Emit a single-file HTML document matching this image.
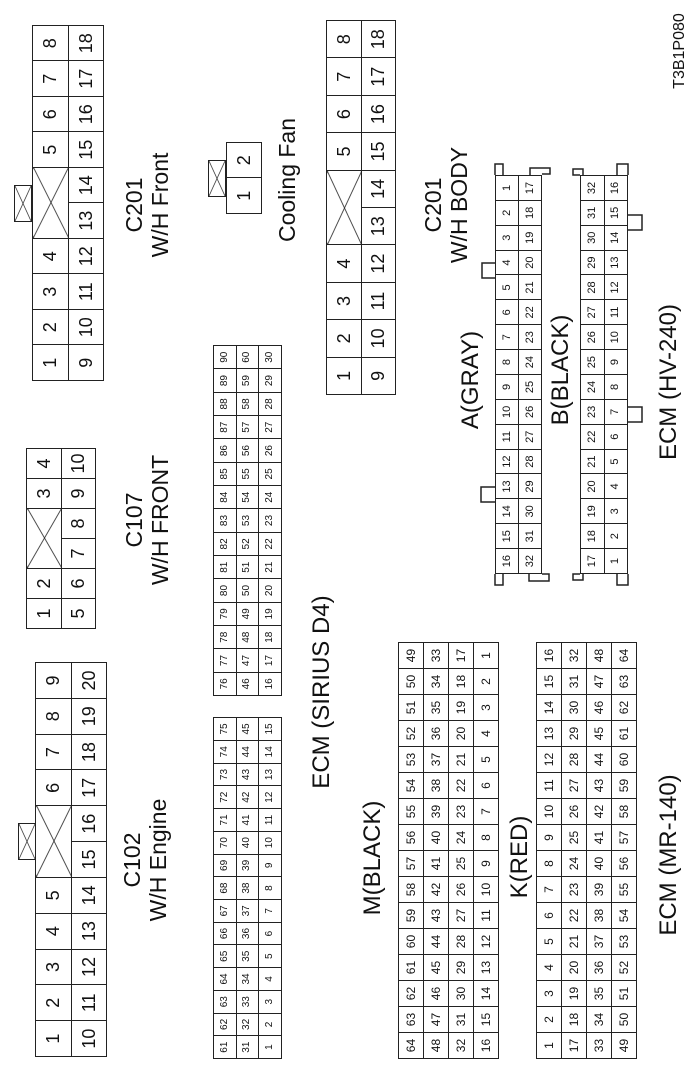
<!DOCTYPE html>
<html><head><meta charset="utf-8"><style>
html,body{margin:0;padding:0;background:#fff;}
body{width:700px;height:1077px;position:relative;overflow:hidden;font-family:"Liberation Sans",Arial,sans-serif;color:#111;}
#rot{position:absolute;left:0;top:0;width:1077px;height:700px;transform-origin:0 0;transform:translate(0,1077px) rotate(-90deg);}
table{position:absolute;border-collapse:collapse;table-layout:fixed;}
td{border:1.5px solid #222;text-align:center;vertical-align:middle;padding:0;line-height:1;overflow:hidden;}
.big td{font-size:18px;}
.s td{font-size:10px;}
.m td{font-size:12px;}
.h td{font-size:11px;}
td.x{background:linear-gradient(to top right,transparent calc(50% - 0.8px),#222 50%,transparent calc(50% + 0.8px)),linear-gradient(to bottom right,transparent calc(50% - 0.8px),#222 50%,transparent calc(50% + 0.8px));}
.latch{position:absolute;border:1.5px solid #222;box-sizing:border-box;background:linear-gradient(to top right,transparent calc(50% - 0.7px),#222 50%,transparent calc(50% + 0.7px)),linear-gradient(to bottom right,transparent calc(50% - 0.7px),#222 50%,transparent calc(50% + 0.7px));}
.lb{position:absolute;width:300px;text-align:center;font-size:23px;line-height:26px;white-space:nowrap;}
svg{position:absolute;left:0;top:0;}
</style></head><body>
<div id="rot">
<div class="latch" style="left:855px;top:14px;width:37px;height:18px;"></div>
<table class="big" style="left:696px;top:32px;width:356px;height:72px;">
<tr><td>1</td><td>2</td><td>3</td><td>4</td><td class="x" colspan="2"></td><td>5</td><td>6</td><td>7</td><td>8</td></tr>
<tr><td>9</td><td>10</td><td>11</td><td>12</td><td>13</td><td>14</td><td>15</td><td>16</td><td>17</td><td>18</td></tr>
</table>
<div class="lb" style="left:722px;top:121px;">C201<br>W/H Front</div>

<div class="latch" style="left:880px;top:208px;width:37px;height:18px;"></div>
<table class="big" style="left:863px;top:226px;width:72px;height:36px;"><tr><td>1</td><td>2</td></tr></table>
<div class="lb" style="left:747px;top:274px;">Cooling Fan</div>

<table class="big" style="left:682px;top:326px;width:375px;height:70px;">
<tr><td>1</td><td>2</td><td>3</td><td>4</td><td class="x" colspan="2"></td><td>5</td><td>6</td><td>7</td><td>8</td></tr>
<tr><td>9</td><td>10</td><td>11</td><td>12</td><td>13</td><td>14</td><td>15</td><td>16</td><td>17</td><td>18</td></tr>
</table>
<div class="lb" style="left:722px;top:420px;">C201<br>W/H BODY</div>

<table class="big" style="left:448px;top:26px;width:181px;height:70px;">
<tr><td>1</td><td>2</td><td class="x" colspan="2"></td><td>3</td><td>4</td></tr>
<tr><td>5</td><td>6</td><td>7</td><td>8</td><td>9</td><td>10</td></tr>
</table>
<div class="lb" style="left:407px;top:121px;">C107<br>W/H FRONT</div>

<div class="latch" style="left:217px;top:18px;width:37px;height:18px;"></div>
<table class="big" style="left:20px;top:35px;width:395px;height:72px;">
<tr><td>1</td><td>2</td><td>3</td><td>4</td><td>5</td><td class="x" colspan="2"></td><td>6</td><td>7</td><td>8</td><td>9</td></tr>
<tr><td>10</td><td>11</td><td>12</td><td>13</td><td>14</td><td>15</td><td>16</td><td>17</td><td>18</td><td>19</td><td>20</td></tr>
</table>
<div class="lb" style="left:67px;top:119px;">C102<br>W/H Engine</div>

<table class="s" style="left:18px;top:213px;width:342px;height:69px;">
<tr><td>61</td><td>62</td><td>63</td><td>64</td><td>65</td><td>66</td><td>67</td><td>68</td><td>69</td><td>70</td><td>71</td><td>72</td><td>73</td><td>74</td><td>75</td></tr>
<tr><td>31</td><td>32</td><td>33</td><td>34</td><td>35</td><td>36</td><td>37</td><td>38</td><td>39</td><td>40</td><td>41</td><td>42</td><td>43</td><td>44</td><td>45</td></tr>
<tr><td>1</td><td>2</td><td>3</td><td>4</td><td>5</td><td>6</td><td>7</td><td>8</td><td>9</td><td>10</td><td>11</td><td>12</td><td>13</td><td>14</td><td>15</td></tr>
</table>
<table class="s" style="left:381px;top:213px;width:351px;height:69px;">
<tr><td>76</td><td>77</td><td>78</td><td>79</td><td>80</td><td>81</td><td>82</td><td>83</td><td>84</td><td>85</td><td>86</td><td>87</td><td>88</td><td>89</td><td>90</td></tr>
<tr><td>46</td><td>47</td><td>48</td><td>49</td><td>50</td><td>51</td><td>52</td><td>53</td><td>54</td><td>55</td><td>56</td><td>57</td><td>58</td><td>59</td><td>60</td></tr>
<tr><td>16</td><td>17</td><td>18</td><td>19</td><td>20</td><td>21</td><td>22</td><td>23</td><td>24</td><td>25</td><td>26</td><td>27</td><td>28</td><td>29</td><td>30</td></tr>
</table>
<div class="lb" style="left:235px;top:309px;font-size:24px;">ECM (SIRIUS D4)</div>

<div class="lb" style="left:69px;top:360px;font-size:24px;">M(BLACK)</div>
<table class="m" style="left:18px;top:398px;width:417px;height:101px;">
<tr><td>64</td><td>63</td><td>62</td><td>61</td><td>60</td><td>59</td><td>58</td><td>57</td><td>56</td><td>55</td><td>54</td><td>53</td><td>52</td><td>51</td><td>50</td><td>49</td></tr>
<tr><td>48</td><td>47</td><td>46</td><td>45</td><td>44</td><td>43</td><td>42</td><td>41</td><td>40</td><td>39</td><td>38</td><td>37</td><td>36</td><td>35</td><td>34</td><td>33</td></tr>
<tr><td>32</td><td>31</td><td>30</td><td>29</td><td>28</td><td>27</td><td>26</td><td>25</td><td>24</td><td>23</td><td>22</td><td>21</td><td>20</td><td>19</td><td>18</td><td>17</td></tr>
<tr><td>16</td><td>15</td><td>14</td><td>13</td><td>12</td><td>11</td><td>10</td><td>9</td><td>8</td><td>7</td><td>6</td><td>5</td><td>4</td><td>3</td><td>2</td><td>1</td></tr>
</table>
<div class="lb" style="left:70px;top:507px;font-size:24px;">K(RED)</div>
<table class="m" style="left:18px;top:536px;width:417px;height:101px;">
<tr><td>1</td><td>2</td><td>3</td><td>4</td><td>5</td><td>6</td><td>7</td><td>8</td><td>9</td><td>10</td><td>11</td><td>12</td><td>13</td><td>14</td><td>15</td><td>16</td></tr>
<tr><td>17</td><td>18</td><td>19</td><td>20</td><td>21</td><td>22</td><td>23</td><td>24</td><td>25</td><td>26</td><td>27</td><td>28</td><td>29</td><td>30</td><td>31</td><td>32</td></tr>
<tr><td>33</td><td>34</td><td>35</td><td>36</td><td>37</td><td>38</td><td>39</td><td>40</td><td>41</td><td>42</td><td>43</td><td>44</td><td>45</td><td>46</td><td>47</td><td>48</td></tr>
<tr><td>49</td><td>50</td><td>51</td><td>52</td><td>53</td><td>54</td><td>55</td><td>56</td><td>57</td><td>58</td><td>59</td><td>60</td><td>61</td><td>62</td><td>63</td><td>64</td></tr>
</table>
<div class="lb" style="left:72px;top:656px;font-size:24px;">ECM (MR-140)</div>

<div class="lb" style="left:547px;top:458px;font-size:24px;">A(GRAY)</div>
<table class="h" style="left:503px;top:495px;width:399px;height:47px;">
<tr><td>16</td><td>15</td><td>14</td><td>13</td><td>12</td><td>11</td><td>10</td><td>9</td><td>8</td><td>7</td><td>6</td><td>5</td><td>4</td><td>3</td><td>2</td><td>1</td></tr>
<tr><td>32</td><td>31</td><td>30</td><td>29</td><td>28</td><td>27</td><td>26</td><td>25</td><td>24</td><td>23</td><td>22</td><td>21</td><td>20</td><td>19</td><td>18</td><td>17</td></tr>
</table>
<div class="lb" style="left:557px;top:548px;font-size:24px;">B(BLACK)</div>
<table class="h" style="left:503px;top:580px;width:399px;height:48px;">
<tr><td>17</td><td>18</td><td>19</td><td>20</td><td>21</td><td>22</td><td>23</td><td>24</td><td>25</td><td>26</td><td>27</td><td>28</td><td>29</td><td>30</td><td>31</td><td>32</td></tr>
<tr><td>1</td><td>2</td><td>3</td><td>4</td><td>5</td><td>6</td><td>7</td><td>8</td><td>9</td><td>10</td><td>11</td><td>12</td><td>13</td><td>14</td><td>15</td><td>16</td></tr>
</table>
<div class="lb" style="left:545px;top:656px;font-size:24px;">ECM (HV-240)</div>

<div class="lb" style="left:876px;top:670px;font-size:16px;line-height:20px;">T3B1P080</div>
</div>

<svg width="700" height="1077" viewBox="0 0 700 1077" fill="none" stroke="#222" stroke-width="1.5">
<polyline points="495,175 495,164 503,164 503,175"/>
<polyline points="530,175 530,168 550,168 550,174 542,174"/>
<polyline points="495,574 495,585 503,585 503,574"/>
<polyline points="529,574 529,581 549,581 549,574 542,574"/>
<polyline points="495,263 482,263 482,278 495,278"/>
<polyline points="495,487 481,487 481,502 495,502"/>
<polyline points="580,175 573,175 573,169 583,169 583,175"/>
<polyline points="617,175 617,164 628,164 628,175"/>
<polyline points="580,574 573,574 573,580 583,580 583,574"/>
<polyline points="617,574 617,585 628,585 628,574"/>
<polyline points="628,215 642,215 642,230 628,230"/>
<polyline points="628,407 642,407 642,422 628,422"/>
</svg>
</body></html>
